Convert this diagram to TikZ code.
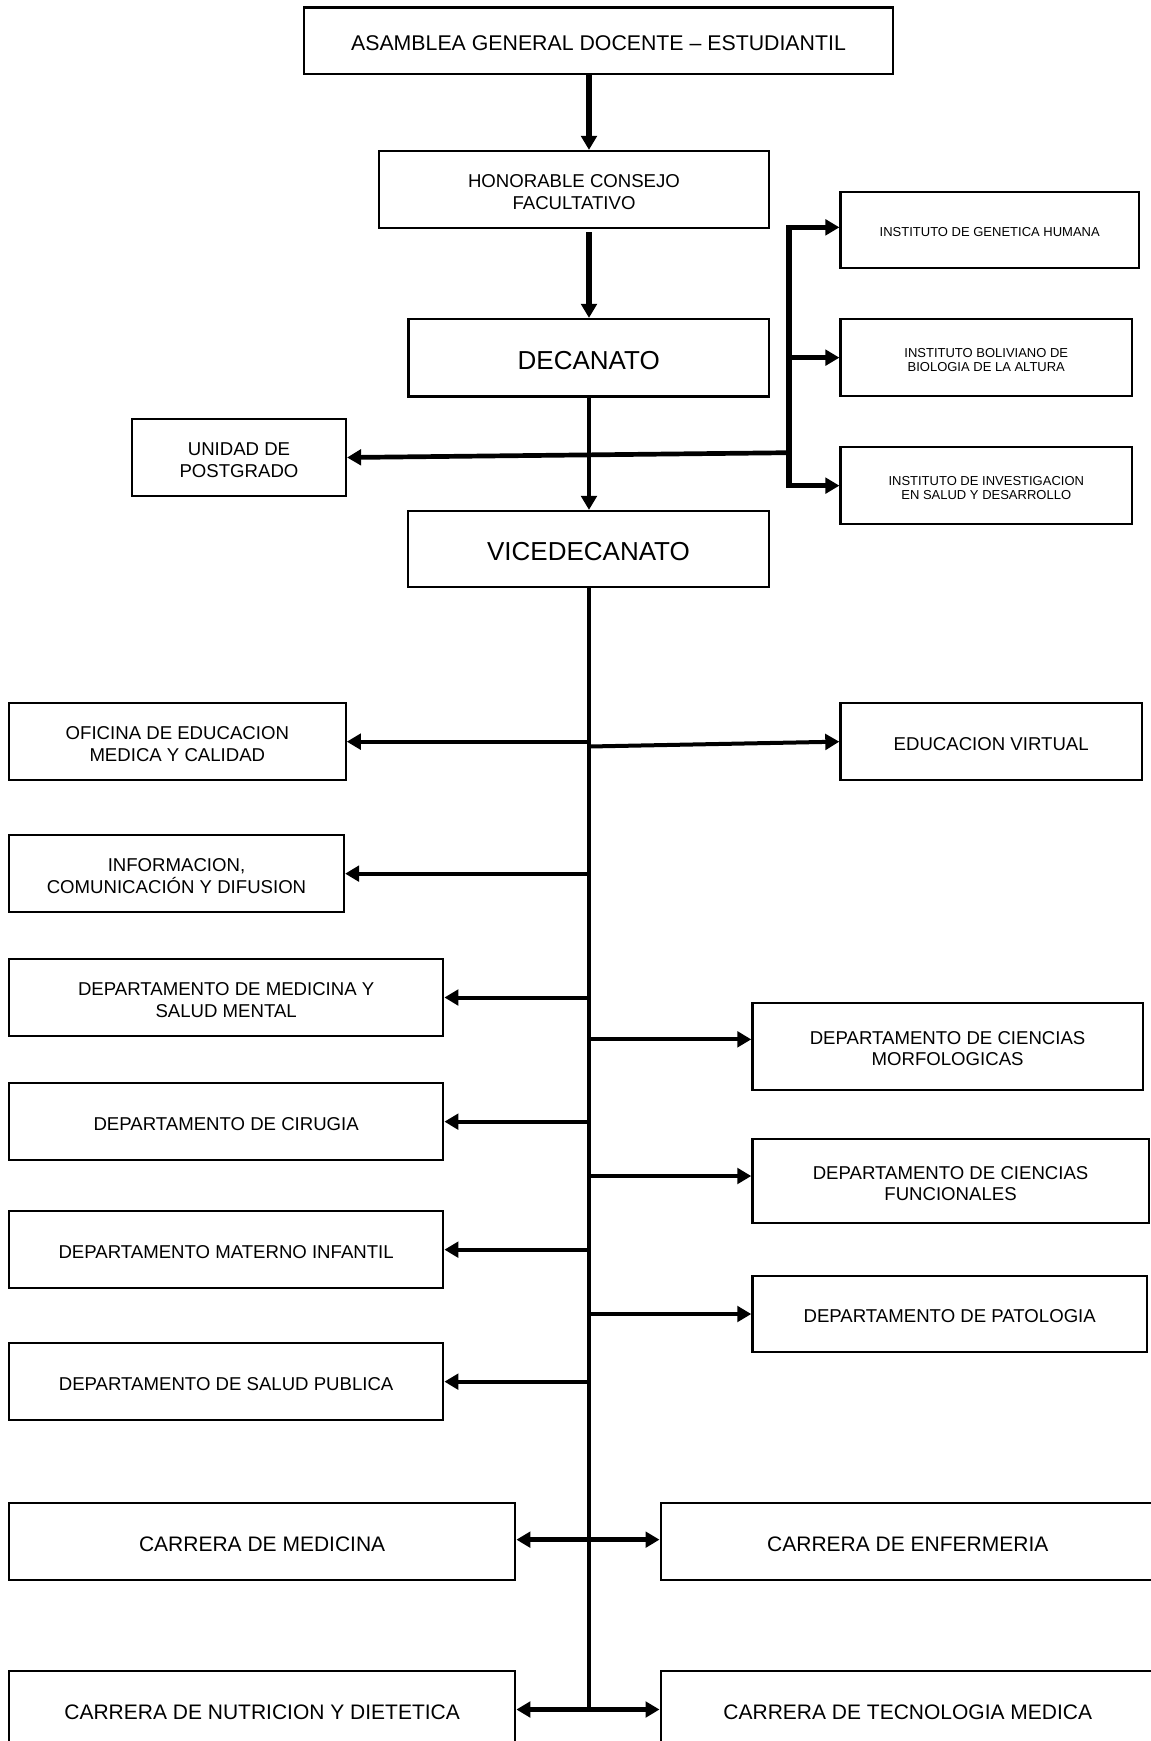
\documentclass[tikz,border=0pt]{standalone}
\usepackage{fontspec}
\setmainfont{Liberation Sans}
\usetikzlibrary{arrows.meta}
\begin{document}
\begin{tikzpicture}[x=1pt,y=-1pt,
  >={Triangle[length=14pt,width=15.5pt]},
  box/.style={draw, line width=2.2pt, rectangle, align=center, inner sep=0pt,
    font=\fontsize{18.6}{21.5}\selectfont, text height=17.7pt},
  two/.style={text height=39.2pt},
  big/.style={font=\fontsize{26}{30}\selectfont, text height=23pt},
  small/.style={font=\fontsize{13}{14.3}\selectfont, text height=13.6pt},
  twosmall/.style={text height=28pt},
  car/.style={font=\fontsize{21}{24}\selectfont, text height=19.4pt},
  br/.style={line width=4pt, ->},
  topar/.style={line width=5.3pt, ->},
  midar/.style={line width=4.7pt, ->},
  dbl/.style={line width=5pt, <->},
  trunkline/.style={line width=4.3pt}
]
\useasboundingbox (0,0) rectangle (1151,1741);

% nodes
\node[box, minimum width=589pt, minimum height=66.5pt, font=\fontsize{21.3}{24}\selectfont, text height=19.6pt] (asamblea) at (598.5,40.75) {ASAMBLEA GENERAL DOCENTE – ESTUDIANTIL};
\node[box, two, minimum width=390pt, minimum height=77pt] (honorable) at (574,189.5) {HONORABLE CONSEJO\\FACULTATIVO};
\node[box, big, minimum width=360.5pt, minimum height=77.5pt] (decanato) at (588.75,357.75) {DECANATO};
\node[box, big, minimum width=361pt, minimum height=76pt] (vicedecanato) at (588.5,549) {VICEDECANATO};
\node[box, two, minimum width=214pt, minimum height=77pt] (unidad) at (239,457.5) {UNIDAD DE\\POSTGRADO};
\node[box, small, minimum width=298.5pt, minimum height=76.3pt] (genetica) at (989.75,229.85) {INSTITUTO DE GENETICA HUMANA};
\node[box, small, twosmall, minimum width=291.5pt, minimum height=76.7pt] (boliviano) at (986.25,357.65) {INSTITUTO BOLIVIANO DE\\BIOLOGIA DE LA ALTURA};
\node[box, small, twosmall, minimum width=291.5pt, minimum height=76.7pt] (investigacion) at (986.25,485.65) {INSTITUTO DE INVESTIGACION\\EN SALUD Y DESARROLLO};

\node[box, two, minimum width=336.7pt, minimum height=76.7pt] (oficina) at (177.35,741.65) {OFICINA DE EDUCACION\\MEDICA Y CALIDAD};
\node[box, minimum width=301.6pt, minimum height=76.7pt] (virtual) at (991.2,741.65) {EDUCACION VIRTUAL};
\node[box, two, minimum width=335pt, minimum height=77.3pt] (informacion) at (176.5,873.65) {INFORMACION,\\COMUNICACIÓN Y DIFUSION};
\node[box, two, minimum width=434.3pt, minimum height=77pt] (depmed) at (226.15,997.5) {DEPARTAMENTO DE MEDICINA Y\\SALUD MENTAL};
\node[box, two, minimum width=390.4pt, minimum height=87.3pt] (morf) at (947.6,1046.35) {DEPARTAMENTO DE CIENCIAS\\MORFOLOGICAS};
\node[box, minimum width=434.3pt, minimum height=76.7pt] (cirugia) at (226.15,1121.65) {DEPARTAMENTO DE CIRUGIA};
\node[box, two, minimum width=396.3pt, minimum height=83.4pt] (func) at (950.55,1181) {DEPARTAMENTO DE CIENCIAS\\FUNCIONALES};
\node[box, minimum width=434.3pt, minimum height=77.3pt] (materno) at (226.15,1249.65) {DEPARTAMENTO MATERNO INFANTIL};
\node[box, minimum width=394.6pt, minimum height=76.6pt] (patologia) at (949.7,1314) {DEPARTAMENTO DE PATOLOGIA};
\node[box, minimum width=434.3pt, minimum height=76.7pt] (salud) at (226.15,1381.65) {DEPARTAMENTO DE SALUD PUBLICA};

\node[box, car, minimum width=506.3pt, minimum height=76.7pt] (medicina) at (262.15,1541.65) {CARRERA DE MEDICINA};
\node[box, car, minimum width=494.4pt, minimum height=76.7pt] (enfermeria) at (907.8,1541.65) {CARRERA DE ENFERMERIA};
\node[box, car, minimum width=506.3pt, minimum height=77pt] (nutricion) at (262.15,1709.5) {CARRERA DE NUTRICION Y DIETETICA};
\node[box, car, minimum width=494.4pt, minimum height=77pt] (tecnologia) at (907.8,1709.5) {CARRERA DE TECNOLOGIA MEDICA};

% helper coordinates
\coordinate (tx) at (589,0);
\coordinate (bx) at (789,0);
\coordinate (uj) at (789,452.7);
\coordinate (evj) at (589,746.5);
\coordinate (gw) at ([yshift=2.5pt]genetica.west);
\coordinate (mw) at ([yshift=7pt]morf.west);
\coordinate (fw) at ([yshift=5pt]func.west);
\coordinate (mde) at ([yshift=2pt]medicina.east);
\coordinate (enw) at ([yshift=2pt]enfermeria.west);

% top chain
\draw[topar] (asamblea.south -| tx) -- (honorable.north -| tx);
\draw[topar, shorten <=3pt] (honorable.south -| tx) -- (decanato.north -| tx);
\draw[midar] (decanato.south -| tx) -- (vicedecanato.north -| tx);

% institutes bracket
\draw[line width=5.3pt, <->] (gw) -- (gw -| bx) -- (investigacion.west -| bx) -- (investigacion.west);
\draw[line width=5.3pt, ->] (boliviano.west -| bx) -- (boliviano.west);
\draw[midar] (uj) -- (unidad.east);

% trunk
\draw[trunkline] (vicedecanato.south -| tx) -- (nutricion.east -| tx);

% left branches
\foreach \n in {oficina, informacion, depmed, cirugia, materno, salud}
  \draw[br] (\n.east -| tx) -- (\n.east);

% right branches
\draw[br] (evj) -- (virtual.west);
\draw[br] (mw -| tx) -- (mw);
\draw[br] (fw -| tx) -- (fw);
\draw[br] (patologia.west -| tx) -- (patologia.west);

% carreras
\draw[dbl] (mde) -- (enw);
\draw[dbl] (nutricion.east) -- (tecnologia.west);
\end{tikzpicture}
\end{document}
